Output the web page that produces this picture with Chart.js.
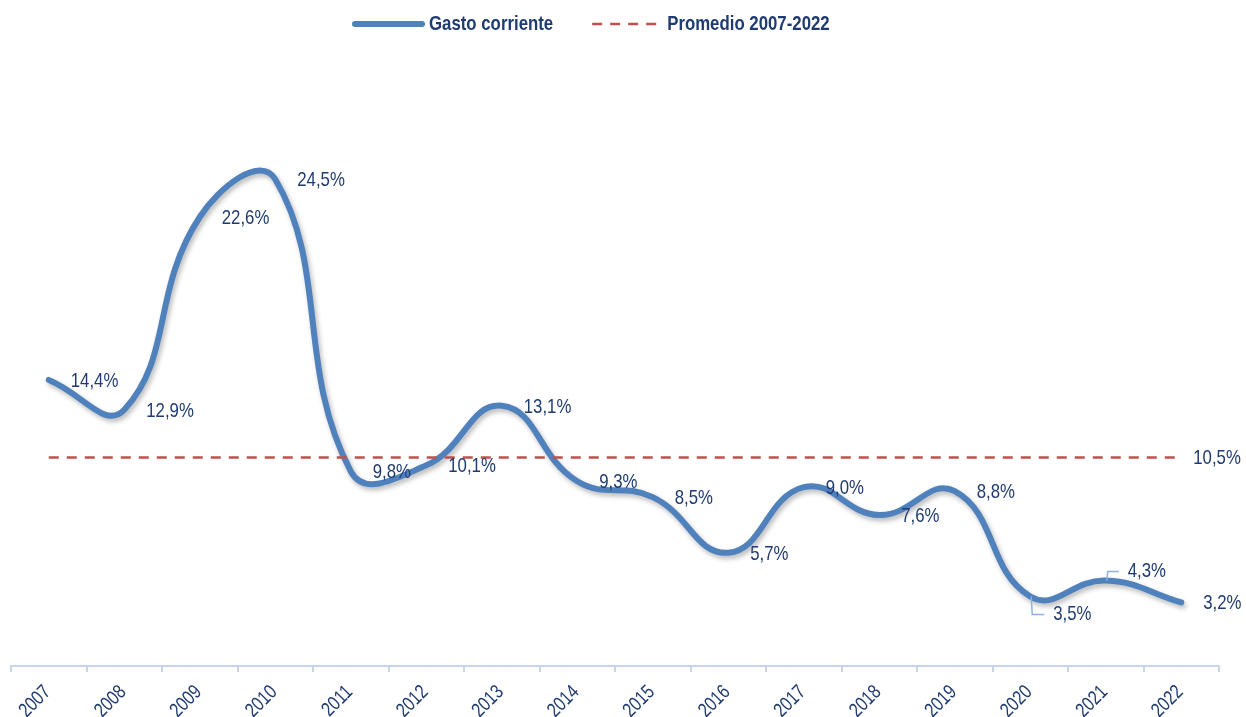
<!DOCTYPE html>
<html>
<head>
<meta charset="utf-8">
<script src="https://cdn.jsdelivr.net/npm/chart.js@4"></script>
<style>
  html, body { margin: 0; padding: 0; background: #fff; }
  #wrap { width: 1246px; height: 717px; }
</style>
</head>
<body>
<div id="wrap"><canvas id="gastoChart"></canvas></div>
<script>
// data
const years = ['2007', '2008', '2009', '2010', '2011', '2012', '2013', '2014',
               '2015', '2016', '2017', '2018', '2019', '2020', '2021', '2022'];
const gasto = [14.4, 12.9, 22.6, 24.5, 9.8, 10.1, 13.1, 9.3, 8.5, 5.7, 9.0, 7.6, 8.8, 3.5, 4.3, 3.2];
const promedio = [10.5, 10.5, 10.5, 10.5, 10.5, 10.5, 10.5, 10.5, 10.5, 10.5, 10.5, 10.5, 10.5, 10.5, 10.5, 10.5];
const seriesNames = ['Gasto corriente', 'Promedio 2007-2022'];

const BLUE = '#4f81bd';
const RED = '#c0504d';
const NAVY = '#1f3b70';
const AXIS = '#c6d5ea';
const FAMILY = '"Liberation Sans", Arial, sans-serif';
const NARROW = 0.8; // no Arial Narrow here, so squeeze Liberation Sans

const fmt = v => v.toFixed(1).replace('.', ',') + '%';

// draw text horizontally condensed, like the narrow font of the original
function narrowText(ctx, text, x, y, angle) {
    ctx.save();
    ctx.translate(x, y);
    if (angle) ctx.rotate(angle);
    ctx.scale(NARROW, 1);
    ctx.fillText(text, 0, 0);
    ctx.restore();
}

// a few labels in the reference sit off the point with a leader line
const labelShift = { 13: { dx: 23, dy: 18, leader: true }, 14: { dx: 22, dy: -9, leader: true } };

const lineShadow = {
    id: 'lineShadow',
    beforeDatasetDraw(chart, args) {
        if (args.index !== 0) return;
        const ctx = chart.ctx;
        ctx.save();
        ctx.shadowColor = 'rgba(0, 0, 0, 0.28)';
        ctx.shadowBlur = 5;
        ctx.shadowOffsetX = 2;
        ctx.shadowOffsetY = 3;
    },
    afterDatasetDraw(chart, args) {
        if (args.index !== 0) return;
        chart.ctx.restore();
    }
};

const valueLabels = {
    id: 'valueLabels',
    afterDatasetsDraw(chart) {
        const ctx = chart.ctx;
        ctx.save();
        ctx.font = '21px ' + FAMILY;
        ctx.fillStyle = NAVY;
        ctx.textAlign = 'left';
        ctx.textBaseline = 'middle';

        chart.getDatasetMeta(0).data.forEach((pt, i) => {
            const s = labelShift[i] || { dx: 22, dy: 1 };
            const tx = pt.x + s.dx, ty = pt.y + s.dy;
            if (s.leader) {
                ctx.strokeStyle = '#8db3e2';
                ctx.lineWidth = 1.5;
                ctx.beginPath();
                ctx.moveTo(pt.x + 1, pt.y);
                ctx.lineTo(pt.x + 2, ty);
                ctx.lineTo(tx - 9, ty);
                ctx.stroke();
            }
            narrowText(ctx, fmt(gasto[i]), tx, ty);
        });

        const avgPts = chart.getDatasetMeta(1).data;
        const last = avgPts[avgPts.length - 1];
        narrowText(ctx, fmt(promedio[promedio.length - 1]), last.x + 12, last.y + 1);
        ctx.restore();
    }
};

// x labels drawn rotated and condensed at the category scale's positions
const yearLabels = {
    id: 'yearLabels',
    afterDraw(chart) {
        const ctx = chart.ctx;
        const xs = chart.scales.x;
        ctx.save();
        ctx.font = '20px ' + FAMILY;
        ctx.fillStyle = NAVY;
        ctx.textAlign = 'right';
        ctx.textBaseline = 'middle';
        years.forEach((yr, i) => {
            narrowText(ctx, yr, xs.getPixelForValue(i) - 1, xs.bottom + 17, -Math.PI / 4);
        });
        ctx.restore();
    }
};

const topLegend = {
    id: 'topLegend',
    afterDraw(chart) {
        const ctx = chart.ctx;
        const y = 24;
        let x = 355;
        ctx.save();
        ctx.font = 'bold 21px ' + FAMILY;
        ctx.fillStyle = NAVY;
        ctx.textBaseline = 'middle';

        ctx.strokeStyle = BLUE;
        ctx.lineWidth = 6;
        ctx.lineCap = 'round';
        ctx.beginPath();
        ctx.moveTo(x, y);
        ctx.lineTo(x + 67, y);
        ctx.stroke();
        x += 74;
        narrowText(ctx, seriesNames[0], x, y);
        x += ctx.measureText(seriesNames[0]).width * NARROW + 39;

        ctx.strokeStyle = RED;
        ctx.lineWidth = 2.5;
        ctx.lineCap = 'butt';
        ctx.setLineDash([10, 8]);
        ctx.beginPath();
        ctx.moveTo(x, y);
        ctx.lineTo(x + 64, y);
        ctx.stroke();
        ctx.setLineDash([]);
        x += 75;
        narrowText(ctx, seriesNames[1], x, y);
        ctx.restore();
    }
};

new Chart(document.getElementById('gastoChart').getContext('2d'), {
    type: 'line',
    data: {
        labels: years,
        datasets: [{
            label: seriesNames[0],
            data: gasto,
            borderColor: BLUE,
            borderWidth: 6,
            tension: 0.45,
            pointRadius: 0,
            borderCapStyle: 'round',
            fill: false,
            order: 1
        }, {
            label: seriesNames[1],
            data: promedio,
            borderColor: RED,
            borderWidth: 2.5,
            borderDash: [10, 8],
            pointRadius: 0,
            fill: false,
            order: 0
        }]
    },
    options: {
        responsive: true,
        maintainAspectRatio: false,
        animation: false,
        layout: { padding: { top: 70, left: 11, right: 27, bottom: 45 } },
        scales: {
            x: {
                offset: true,
                border: { color: AXIS, width: 2 },
                grid: { offset: true, drawOnChartArea: false, tickLength: 6, color: AXIS, lineWidth: 2 },
                ticks: { display: false }
            },
            y: { display: false, min: 0, max: 30 }
        },
        plugins: {
            legend: { display: false },
            tooltip: { enabled: false }
        }
    },
    plugins: [lineShadow, valueLabels, yearLabels, topLegend]
});
</script>
</body>
</html>
